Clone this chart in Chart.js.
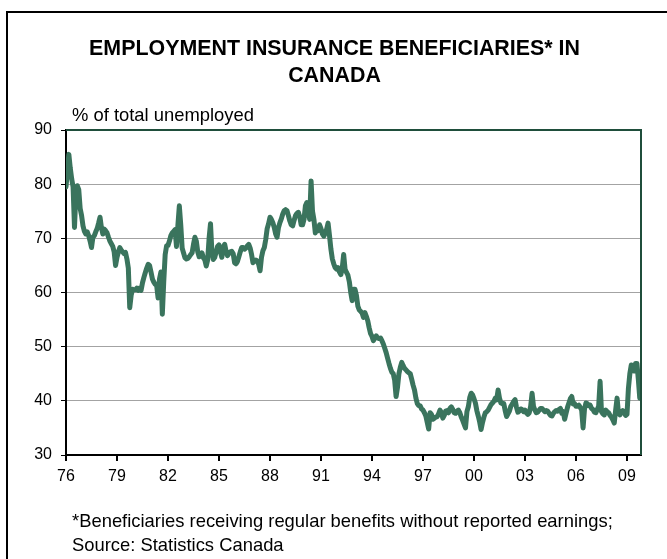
<!DOCTYPE html>
<html>
<head>
<meta charset="utf-8">
<script src="https://cdn.jsdelivr.net/npm/chart.js@4/dist/chart.umd.min.js"></script>
<style>
  html, body { margin: 0; padding: 0; background: #fff; }
  body { width: 667px; height: 559px; position: relative; overflow: hidden;
         font-family: "Liberation Sans", Arial, sans-serif; color: #000; }
  #frame { position: absolute; left: 6px; top: 11px; width: 720px; height: 620px;
           border: 2px solid #000; box-sizing: border-box; }
  #chart { position: absolute; left: 0; top: 0; }
  .txt { position: absolute; white-space: nowrap; line-height: 1; }
  .title { left: 0; width: 669px; text-align: center; font-weight: bold; font-size: 21.4px; }
  .small { font-size: 18.4px; }
</style>
</head>
<body>
<div id="frame"></div>
<canvas id="chart" width="667" height="559"></canvas>
<div class="txt title" style="top:38px;">EMPLOYMENT INSURANCE BENEFICIARIES* IN</div>
<div class="txt title" style="top:65px;">CANADA</div>
<div class="txt small" style="left:72px; top:106px;">% of total unemployed</div>
<div class="txt small" style="left:72px; top:512px;">*Beneficiaries receiving regular benefits without reported earnings;</div>
<div class="txt small" style="left:72px; top:536px;">Source: Statistics Canada</div>
<script>
// Regular EI beneficiaries as a share of total unemployed (%), monthly from January 1976.
const share1976to1979 = [
  79.5, 82.5, 85.5, 83, 81, 79.5, 72, 78.5, 79.7, 79, 75.5, 74.2,
  72.3, 71.3, 70.8, 71.2, 70.5, 69.5, 68.3, 70.2, 70.5, 71.2, 71.8, 72.8,
  73.9, 72, 70.8, 71.7, 71.4, 71, 70.2, 69.5, 69, 68.5, 67.5, 65,
  66.5, 67.5, 68.3, 67.8, 67.5, 67.2, 67.4, 66.2, 64.5, 57.2, 59.5, 60.6
];
const share1980to1989 = [
  60.5, 60.5, 60.8, 60.4, 60.8, 60.4, 61.8, 62.8, 63.7, 64.5, 65.2, 65,
  63.8, 62.5, 61.9, 61.5, 61.3, 59, 62.5, 63.8, 56, 62, 67, 68.6,
  68.7, 69.5, 70.5, 71, 71.3, 71.6, 68.5, 72.5, 76, 72.5, 68.2, 67.3,
  66.4, 66.2, 66.3, 66.6, 67, 67.3, 68.9, 70.2, 69.5, 67.5, 66.6, 66.8,
  67.3, 66.4, 66, 64.9, 66, 70, 72.7, 67.5, 66.1, 66.5, 67.5, 68.5,
  68.8, 67.5, 66.5, 68.3, 68.9, 67.6, 66.8, 67.2, 67.5, 67.6, 67.2, 65.5,
  65.3, 65.7, 66.6, 67.5, 68.3, 68.3, 68, 68.2, 68.6, 68.9, 68.2, 67,
  65.5, 65.8, 66, 65.8, 65.2, 64, 66.5, 67.7, 68.3, 69.8, 71.8, 72.7,
  73.9, 73.5, 72.9, 72, 70.8, 70.2, 72, 72.9, 73.6, 74.5, 75.1, 75.3,
  75.1, 74.2, 73.2, 72.5, 72.3, 73.3, 74.2, 74.6, 74.8, 74, 72.5, 72.5
];
const share1990to1999 = [
  73.5, 76, 76.6, 74.8, 73.5, 80.6, 75, 73.5, 71, 72, 71.4, 72.5,
  71.8, 70.8, 70.4, 71, 71.7, 72.8, 70.5, 68, 66.2, 65.3, 64.6, 64.3,
  64.6, 63.8, 63.3, 64.5, 67, 64.3, 63.7, 63.2, 62, 60, 58.5, 60.6,
  60.6, 59.5, 57.5, 56.8, 56.5, 56.2, 55.4, 56.3, 55.6, 54.8, 53.5, 52.4,
  51.9, 51.1, 51.6, 52, 51.6, 51.5, 51.6, 51.1, 50.5, 49.7, 48.9, 47.9,
  46.9, 46, 45.3, 45, 43.8, 40.8, 42.5, 45, 46.2, 47.1, 46.5, 46,
  45.7, 45.4, 45.2, 45, 44, 42.9, 42, 40.5, 39.5, 39.1, 39.1, 38.5,
  38.3, 37.8, 37.2, 36, 34.8, 37.8, 37.5, 36.6, 36.8, 37, 37.1, 37.6,
  38.3, 37.8, 36.8, 37.3, 38.1, 38.2, 37.8, 38.6, 38.9, 38.4, 37.8, 37.7,
  38.1, 38.3, 37.8, 37, 36.4, 35.7, 35, 38, 38.9, 40.6, 41.4, 41.1
];
const share2000to2009 = [
  40.4, 39.6, 38.2, 37.2, 36.1, 34.7, 36, 37, 37.8, 38, 38.3, 38.8,
  39.3, 39.6, 39.9, 40.5, 40.2, 42, 40.5, 39.6, 39.5, 39.5, 38.2, 37.1,
  37.6, 38.1, 39, 39.4, 39.9, 40.2, 38.8, 37.9, 38.1, 38.5, 38.4, 38,
  38.3, 37.8, 37.5, 37.8, 39, 41.4, 39, 38.3, 37.8, 37.9, 38.3, 38.6,
  38.6, 38.3, 38, 38.2, 38.1, 37.7, 37.3, 37.2, 37.7, 38, 38.2, 38.1,
  38.4, 38.6, 37.7, 38, 36.6, 37.7, 38.8, 39.6, 40.4, 40.8, 39.4, 39.5,
  39, 39, 39.2, 38.8, 38.3, 35, 38.5, 39.6, 39.5, 39.1, 39.2, 38.6,
  38.4, 37.9, 37.8, 38.4, 39, 43.6, 38, 37.6, 37.4, 38.3, 38, 37.8,
  37.3, 37, 36.5, 35.9, 38.3, 40.5, 37.7, 37.4, 37.9, 38.2, 37.8, 37.3,
  37.5, 42.3, 45, 46.6, 46.2, 45.5, 46.9, 46.9, 44, 40.5
];

const firstYear = 1976;
const tickYears = [1976, 1979, 1982, 1985, 1988, 1991, 1994, 1997, 2000, 2003, 2006, 2009];
const tickLabels = ['76', '79', '82', '85', '88', '91', '94', '97', '00', '03', '06', '09'];
const yTicks = [30, 40, 50, 60, 70, 80, 90];

const monthlyShare = [].concat(share1976to1979, share1980to1989, share1990to1999, share2000to2009);
const points = monthlyShare.map((v, i) => ({ x: firstYear + i / 12, y: v }));

// Dark green top and right edges of the plot box
const plotEdges = {
  id: 'plotEdges',
  afterDraw(chart) {
    const { ctx, chartArea: a } = chart;
    ctx.save();
    ctx.strokeStyle = '#1f4e3b';
    ctx.lineWidth = 2;
    ctx.beginPath();
    ctx.moveTo(a.left, a.top);
    ctx.lineTo(a.right, a.top);
    ctx.lineTo(a.right, a.bottom);
    ctx.stroke();
    ctx.restore();
  }
};

new Chart(document.getElementById('chart'), {
  type: 'line',
  data: {
    datasets: [{
      data: points,
      borderColor: '#3a745d',
      borderWidth: 5,
      pointRadius: 0,
      tension: 0,
      borderJoinStyle: 'round',
      borderCapStyle: 'round',
      fill: false
    }]
  },
  options: {
    responsive: false,
    animation: false,
    events: [],
    layout: { padding: { top: 130, right: 26, left: 0, bottom: 0 } },
    plugins: { legend: { display: false }, tooltip: { enabled: false }, title: { display: false } },
    scales: {
      x: {
        type: 'linear',
        min: firstYear,
        max: firstYear + 575 / 17,
        afterBuildTicks: (scale) => { scale.ticks = tickYears.map(v => ({ value: v })); },
        afterFit: (scale) => { scale.height = 104; },
        ticks: {
          autoSkip: false,
          maxRotation: 0,
          padding: 6,
          color: '#000',
          font: { family: '"Liberation Sans", Arial, sans-serif', size: 16 },
          callback: (v) => tickLabels[tickYears.indexOf(v)]
        },
        grid: { drawOnChartArea: false, drawTicks: true, tickLength: 6, tickColor: '#000', lineWidth: 2 },
        border: { display: true, color: '#000', width: 2 }
      },
      y: {
        min: 30,
        max: 90,
        afterBuildTicks: (scale) => { scale.ticks = yTicks.map(v => ({ value: v })); },
        afterFit: (scale) => { scale.width = 66; },
        ticks: {
          padding: 9,
          color: '#000',
          font: { family: '"Liberation Sans", Arial, sans-serif', size: 16 },
          callback: (v) => String(v)
        },
        grid: {
          drawTicks: true,
          tickLength: 5,
          tickColor: '#000',
          lineWidth: 1,
          color: (c) => (c.tick && (c.tick.value === 30 || c.tick.value === 90)) ? 'rgba(0,0,0,0)' : '#a3a3a3'
        },
        border: { display: true, color: '#000', width: 2 }
      }
    }
  },
  plugins: [plotEdges]
});
</script>
</body>
</html>
